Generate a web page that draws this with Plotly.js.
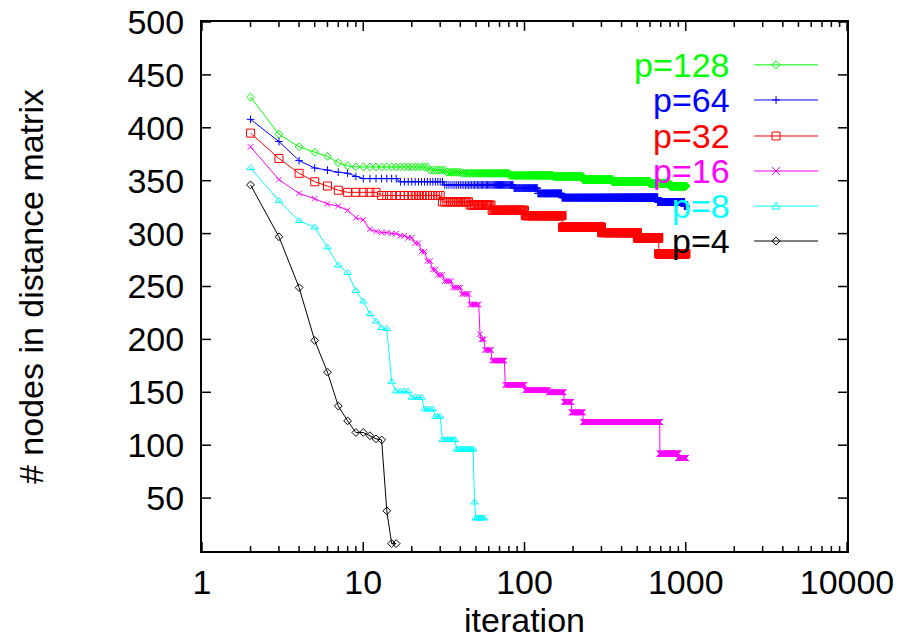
<!DOCTYPE html>
<html>
<head>
<meta charset="utf-8">
<script src="https://cdn.plot.ly/plotly-3.0.1.min.js"></script>
<style>html,body{margin:0;padding:0;background:#fff;}#chart{width:900px;height:641px;}</style>
</head>
<body>
<div id="chart"></div>
<script>
// Series data as step runs: each run starts at an iteration and holds its value
// until the next run starts (last run holds until that series' last iteration).
const seriesNames = ["p=128", "p=64", "p=32", "p=16", "p=8", "p=4"];

const p128_runStart = [2, 3, 4, 5, 6, 7, 8, 9, 26, 33, 41, 81, 151, 231, 351, 601, 801];
const p128_runValue = [429, 394, 382, 377, 373, 367, 364, 363, 360, 358, 357, 355, 354, 351, 349, 347, 345];
const p128_last = 1000;

const p64_runStart = [2, 3, 4, 5, 6, 7, 8, 9, 10, 17, 32, 86, 121, 171, 671, 981];
const p64_runValue = [408, 387, 369, 362, 360, 358, 357, 354, 352, 349, 346, 343, 338, 334, 330, 326];
const p64_last = 1000;

const p32_runStart = [2, 3, 4, 5, 6, 7, 8, 13, 31, 46, 63, 101, 172, 301, 501, 681];
const p32_runValue = [395, 371, 357, 349, 345, 341, 339, 336, 330, 327, 322, 317, 306, 301, 296, 281];
const p32_last = 1000;

const p16_runStart = [2, 3, 4, 5, 6, 7, 8, 9, 10, 11, 12, 13, 15, 17, 19, 21, 23, 25, 27, 29, 32, 36, 41, 46, 53, 54, 57, 63, 76, 101, 141, 176, 196, 231, 691, 901];
const p16_runValue = [382, 351, 338, 333, 328, 326, 322, 315, 313, 304, 302, 301, 300, 298, 296, 291, 283, 274, 266, 261, 255, 249, 243, 233, 205, 200, 190, 180, 157, 152, 150, 141, 131, 122, 92, 88];
const p16_last = 1000;

const p8_runStart = [2, 3, 4, 5, 6, 7, 8, 9, 10, 11, 12, 13, 14, 15, 16, 20, 24, 28, 31, 38, 49, 50];
const p8_runValue = [362, 331, 312, 306, 287, 270, 263, 246, 236, 224, 217, 211, 210, 160, 151, 145, 134, 127, 105, 96, 46, 31];
const p8_last = 56;

const p4_runStart = [2, 3, 4, 5, 6, 7, 8, 9, 10, 11, 12, 13, 14, 15, 16];
const p4_runValue = [346, 297, 249, 199, 169, 137, 123, 112, 112, 109, 106, 105, 38, 7, 7];
const p4_last = 16;

const seriesColors = ["#00ff00", "#0000ff", "#ff0000", "#ff00ff", "#00ffff", "#000000"];
const seriesSymbols = ["diamond-open", "cross-thin-open", "square-open", "x-thin-open", "triangle-up-open", "diamond-open"];
const seriesSizes = [6, 5.5, 8, 5.5, 6.5, 6];
// pixel outlines of the same glyphs for the key samples
const keyGlyphs = [
  "M0,4L4,0L0,-4L-4,0Z",
  "M0,4L0,-4M-4,0L4,0",
  "M-4,-4L4,-4L4,4L-4,4Z",
  "M-4,-4L4,4M-4,4L4,-4",
  "M-4,-3L4,-3L0,4Z",
  "M0,4L4,0L0,-4L-4,0Z"
];

const xTickVals = [1, 10, 100, 1000, 10000];
const xTickText = ["1", "10", "100", "1000", "10000"];
const yTickVals = [50, 100, 150, 200, 250, 300, 350, 400, 450, 500];
const xRangeLog = [0, 4];
const yRange = [0, 500];

function expandRuns(starts, values, last) {
  const xs = [], ys = [];
  for (let i = 0; i < starts.length; i++) {
    const end = (i + 1 < starts.length) ? starts[i + 1] - 1 : last;
    for (let it = starts[i]; it <= end; it++) { xs.push(it); ys.push(values[i]); }
  }
  return {x: xs, y: ys};
}

const runs = [
  [p128_runStart, p128_runValue, p128_last],
  [p64_runStart, p64_runValue, p64_last],
  [p32_runStart, p32_runValue, p32_last],
  [p16_runStart, p16_runValue, p16_last],
  [p8_runStart, p8_runValue, p8_last],
  [p4_runStart, p4_runValue, p4_last]
];

const traces = [];
runs.forEach((r, i) => {
  const d = expandRuns(r[0], r[1], r[2]);
  traces.push({
    type: "scatter", mode: "lines+markers", name: seriesNames[i],
    x: d.x, y: d.y, showlegend: false,
    line: {color: seriesColors[i], width: 1},
    marker: {symbol: seriesSymbols[i], size: seriesSizes[i], color: seriesColors[i], line: {width: 1, color: seriesColors[i]}}
  });
});

// key (gnuplot style: label, then line sample with a point)
const keyRowY = [0.919, 0.8526, 0.7845, 0.7183, 0.652, 0.586];
const annotations = [];
const shapes = [];
seriesNames.forEach((name, i) => {
  shapes.push({type: "line", xref: "paper", yref: "paper", x0: 0.856, x1: 0.955, y0: keyRowY[i], y1: keyRowY[i],
               line: {color: seriesColors[i], width: 1}});
  shapes.push({type: "path", xref: "paper", yref: "paper", xsizemode: "pixel", ysizemode: "pixel",
               xanchor: 0.890, yanchor: keyRowY[i], path: keyGlyphs[i],
               fillcolor: "rgba(255,255,255,0)", line: {color: seriesColors[i], width: 1}});
  annotations.push({
    xref: "paper", yref: "paper", x: 0.8217, y: keyRowY[i], xanchor: "right", yanchor: "middle",
    text: name, showarrow: false, font: {family: "Liberation Sans, Arial, sans-serif", size: 34, color: seriesColors[i]}
  });
});

// gnuplot-style inward tick marks on all four sides (major + log minor on x)
function xFrac(v) { return (Math.log10(v) - xRangeLog[0]) / (xRangeLog[1] - xRangeLog[0]); }
function addXTick(v, len) {
  const f = xFrac(v);
  shapes.push({type: "line", xref: "paper", yref: "paper", x0: f, x1: f, ysizemode: "pixel", yanchor: 0, y0: 0, y1: len,
               line: {color: "#000", width: 1.5}});
  shapes.push({type: "line", xref: "paper", yref: "paper", x0: f, x1: f, ysizemode: "pixel", yanchor: 1, y0: 0, y1: -len,
               line: {color: "#000", width: 1.5}});
}
xTickVals.forEach(v => addXTick(v, 9));
xTickVals.slice(0, -1).forEach(d => { for (let m = 2; m <= 9; m++) addXTick(d * m, 5); });
yTickVals.forEach(v => {
  shapes.push({type: "line", xref: "paper", yref: "y", y0: v, y1: v, xsizemode: "pixel", xanchor: 0, x0: 0, x1: 9,
               line: {color: "#000", width: 1.5}});
  shapes.push({type: "line", xref: "paper", yref: "y", y0: v, y1: v, xsizemode: "pixel", xanchor: 1, x0: 0, x1: -9,
               line: {color: "#000", width: 1.5}});
});

const font = {family: "Liberation Sans, Arial, sans-serif", size: 34, color: "#000"};

const layout = {
  width: 900, height: 641,
  margin: {l: 202, r: 53, t: 22, b: 90, pad: 0},
  paper_bgcolor: "#fff", plot_bgcolor: "#fff",
  font: font,
  showlegend: false,
  xaxis: {
    type: "log", range: xRangeLog, tickmode: "array", tickvals: xTickVals, ticktext: xTickText,
    ticks: "", showline: true, linewidth: 2, linecolor: "#000", mirror: true,
    showgrid: false, zeroline: false, tickfont: font,
    title: {text: "iteration", font: font, standoff: 0}
  },
  yaxis: {
    range: yRange, tickmode: "array", tickvals: yTickVals,
    ticks: "outside", ticklen: 9, tickwidth: 1, tickcolor: "rgba(0,0,0,0)",
    showline: true, linewidth: 2, linecolor: "#000", mirror: true,
    showgrid: false, zeroline: false, tickfont: font,
    title: {text: "# nodes in distance matrix", font: font, standoff: 74}
  },
  shapes: shapes,
  annotations: annotations
};

Plotly.newPlot("chart", traces, layout, {displayModeBar: false});
</script>
</body>
</html>
